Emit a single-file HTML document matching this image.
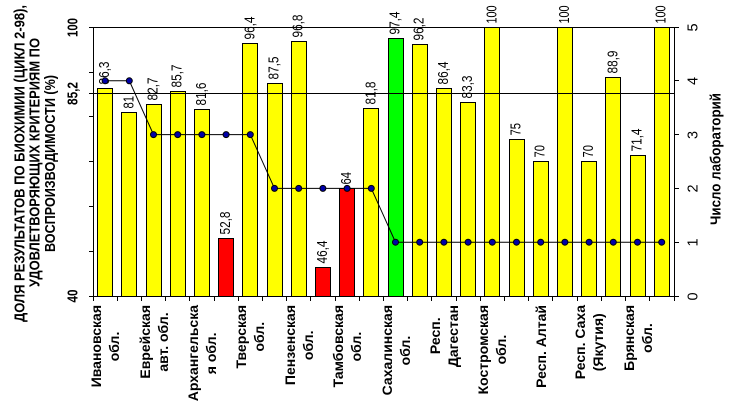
<!DOCTYPE html>
<html><head><meta charset="utf-8">
<style>
html,body{margin:0;padding:0;background:#fff;}
#w{position:relative;width:731px;height:405px;overflow:hidden;background:#fff;font-family:"Liberation Sans","DejaVu Sans",sans-serif;}
svg{position:absolute;left:0;top:0;}
.v{position:absolute;writing-mode:vertical-rl;white-space:nowrap;text-align:center;color:#000;}
.cat{top:305px;font-weight:bold;font-size:14px;line-height:18px;transform:translateX(-50%) rotate(180deg);}
</style></head><body>
<div id="w">
<svg width="731" height="405" viewBox="0 0 731 405" xmlns="http://www.w3.org/2000/svg">
<g stroke="#000" stroke-width="1">
<rect x="97.5" y="88.5" width="15" height="208" fill="#ffff00"/>
<rect x="121.5" y="112.5" width="15" height="184" fill="#ffff00"/>
<rect x="146.5" y="104.5" width="15" height="192" fill="#ffff00"/>
<rect x="170.5" y="91.5" width="15" height="205" fill="#ffff00"/>
<rect x="194.5" y="109.5" width="15" height="187" fill="#ffff00"/>
<rect x="218.5" y="238.5" width="15" height="58" fill="#ff0000"/>
<rect x="242.5" y="43.5" width="15" height="253" fill="#ffff00"/>
<rect x="267.5" y="83.5" width="15" height="213" fill="#ffff00"/>
<rect x="291.5" y="41.5" width="15" height="255" fill="#ffff00"/>
<rect x="315.5" y="267.5" width="15" height="29" fill="#ff0000"/>
<rect x="339.5" y="188.5" width="15" height="108" fill="#ff0000"/>
<rect x="363.5" y="108.5" width="15" height="188" fill="#ffff00"/>
<rect x="388.5" y="38.5" width="15" height="258" fill="#00ff00"/>
<rect x="412.5" y="44.5" width="15" height="252" fill="#ffff00"/>
<rect x="436.5" y="88.5" width="15" height="208" fill="#ffff00"/>
<rect x="460.5" y="102.5" width="15" height="194" fill="#ffff00"/>
<rect x="484.5" y="27.5" width="15" height="269" fill="#ffff00"/>
<rect x="509.5" y="139.5" width="15" height="157" fill="#ffff00"/>
<rect x="533.5" y="161.5" width="15" height="135" fill="#ffff00"/>
<rect x="557.5" y="27.5" width="15" height="269" fill="#ffff00"/>
<rect x="581.5" y="161.5" width="15" height="135" fill="#ffff00"/>
<rect x="605.5" y="77.5" width="15" height="219" fill="#ffff00"/>
<rect x="630.5" y="155.5" width="15" height="141" fill="#ffff00"/>
<rect x="654.5" y="27.5" width="15" height="269" fill="#ffff00"/>
</g>
<g stroke="#000" stroke-width="1" fill="none">
<line x1="93.5" y1="27" x2="93.5" y2="297"/>
<line x1="89" y1="27.5" x2="675" y2="27.5"/>
<line x1="89" y1="93.5" x2="674.5" y2="93.5"/>
<line x1="93" y1="296.5" x2="675" y2="296.5"/>
<line x1="674.5" y1="27" x2="674.5" y2="297"/>
<line x1="89" y1="72.5" x2="93" y2="72.5"/>
<line x1="89" y1="116.5" x2="93" y2="116.5"/>
<line x1="89" y1="161.5" x2="93" y2="161.5"/>
<line x1="89" y1="206.5" x2="93" y2="206.5"/>
<line x1="89" y1="251.5" x2="93" y2="251.5"/>
<line x1="89" y1="296.5" x2="93" y2="296.5"/>
<line x1="675" y1="27.5" x2="679" y2="27.5"/>
<line x1="675" y1="80.5" x2="679" y2="80.5"/>
<line x1="675" y1="134.5" x2="679" y2="134.5"/>
<line x1="675" y1="188.5" x2="679" y2="188.5"/>
<line x1="675" y1="242.5" x2="679" y2="242.5"/>
<line x1="675" y1="296.5" x2="679" y2="296.5"/>
<path d="M93.5 297v4M117.5 297v4M141.5 297v4M165.5 297v4M189.5 297v4M214.5 297v4M238.5 297v4M262.5 297v4M286.5 297v4M310.5 297v4M335.5 297v4M359.5 297v4M383.5 297v4M407.5 297v4M431.5 297v4M456.5 297v4M480.5 297v4M504.5 297v4M528.5 297v4M552.5 297v4M577.5 297v4M601.5 297v4M625.5 297v4M649.5 297v4M674.5 297v4"/>
</g>
<g font-family="Liberation Sans, sans-serif" font-size="15" fill="#000">
<text transform="translate(109.1,84.5) rotate(-90)" textLength="23" lengthAdjust="spacingAndGlyphs">86,3</text>
<text transform="translate(133.3,108.5) rotate(-90)" textLength="12.5" lengthAdjust="spacingAndGlyphs">81</text>
<text transform="translate(157.5,100.5) rotate(-90)" textLength="23" lengthAdjust="spacingAndGlyphs">82,7</text>
<text transform="translate(181.7,87.5) rotate(-90)" textLength="23" lengthAdjust="spacingAndGlyphs">85,7</text>
<text transform="translate(205.9,105.5) rotate(-90)" textLength="23" lengthAdjust="spacingAndGlyphs">81,6</text>
<text transform="translate(230.1,234.5) rotate(-90)" textLength="23" lengthAdjust="spacingAndGlyphs">52,8</text>
<text transform="translate(254.3,39.5) rotate(-90)" textLength="23" lengthAdjust="spacingAndGlyphs">96,4</text>
<text transform="translate(278.5,79.5) rotate(-90)" textLength="23" lengthAdjust="spacingAndGlyphs">87,5</text>
<text transform="translate(302.7,37.5) rotate(-90)" textLength="23" lengthAdjust="spacingAndGlyphs">96,8</text>
<text transform="translate(326.9,263.5) rotate(-90)" textLength="23" lengthAdjust="spacingAndGlyphs">46,4</text>
<text transform="translate(351.1,184.5) rotate(-90)" textLength="12.5" lengthAdjust="spacingAndGlyphs">64</text>
<text transform="translate(375.3,104.5) rotate(-90)" textLength="23" lengthAdjust="spacingAndGlyphs">81,8</text>
<text transform="translate(399.5,34.5) rotate(-90)" textLength="23" lengthAdjust="spacingAndGlyphs">97,4</text>
<text transform="translate(423.7,40.5) rotate(-90)" textLength="23" lengthAdjust="spacingAndGlyphs">96,2</text>
<text transform="translate(447.9,84.5) rotate(-90)" textLength="23" lengthAdjust="spacingAndGlyphs">86,4</text>
<text transform="translate(472.1,98.5) rotate(-90)" textLength="23" lengthAdjust="spacingAndGlyphs">83,3</text>
<text transform="translate(496.3,23.5) rotate(-90)" textLength="18" lengthAdjust="spacingAndGlyphs">100</text>
<text transform="translate(520.5,135.5) rotate(-90)" textLength="12.5" lengthAdjust="spacingAndGlyphs">75</text>
<text transform="translate(544.7,157.5) rotate(-90)" textLength="12.5" lengthAdjust="spacingAndGlyphs">70</text>
<text transform="translate(568.9,23.5) rotate(-90)" textLength="18" lengthAdjust="spacingAndGlyphs">100</text>
<text transform="translate(593.1,157.5) rotate(-90)" textLength="12.5" lengthAdjust="spacingAndGlyphs">70</text>
<text transform="translate(617.3,73.5) rotate(-90)" textLength="23" lengthAdjust="spacingAndGlyphs">88,9</text>
<text transform="translate(641.5,151.5) rotate(-90)" textLength="23" lengthAdjust="spacingAndGlyphs">71,4</text>
<text transform="translate(665.7,23.5) rotate(-90)" textLength="18" lengthAdjust="spacingAndGlyphs">100</text>
</g>
<g font-family="Liberation Sans, sans-serif" font-size="15" font-weight="bold" fill="#000" text-anchor="middle">
<text transform="translate(77.5,27.5) rotate(-90)" textLength="19" lengthAdjust="spacingAndGlyphs">100</text>
<text transform="translate(77.5,93.5) rotate(-90)" textLength="23" lengthAdjust="spacingAndGlyphs">85,2</text>
<text transform="translate(77.5,296) rotate(-90)" textLength="13" lengthAdjust="spacingAndGlyphs">40</text>
</g>
<g font-family="Liberation Sans, sans-serif" font-size="14.5" fill="#000" text-anchor="middle">
<text transform="translate(697.5,27.5) rotate(-90)">5</text>
<text transform="translate(697.5,81) rotate(-90)">4</text>
<text transform="translate(697.5,135) rotate(-90)">3</text>
<text transform="translate(697.5,188.5) rotate(-90)">2</text>
<text transform="translate(697.5,242.5) rotate(-90)">1</text>
<text transform="translate(697.5,296.5) rotate(-90)">0</text>
</g>
<!-- left title -->
<g font-family="Liberation Sans, sans-serif" font-size="15" font-weight="bold" fill="#000" text-anchor="middle">
<text transform="translate(24.5,163.5) rotate(-90)" textLength="317" lengthAdjust="spacingAndGlyphs">ДОЛЯ РЕЗУЛЬТАТОВ ПО БИОХИМИИ (ЦИКЛ 2-98),</text>
<text transform="translate(39.5,162.5) rotate(-90)" textLength="249" lengthAdjust="spacingAndGlyphs">УДОВЛЕТВОРЯЮЩИХ КРИТЕРИЯМ ПО</text>
<text transform="translate(55,163.5) rotate(-90)" textLength="177" lengthAdjust="spacingAndGlyphs">ВОСПРОИЗВОДИМОСТИ (%)</text>
</g>
<!-- right title -->
<g font-family="Liberation Sans, sans-serif" font-size="14.5" font-weight="bold" fill="#000" text-anchor="middle">
<text transform="translate(720.5,159) rotate(-90)" textLength="132" lengthAdjust="spacingAndGlyphs">Число лабораторий</text>
</g>
<polyline fill="none" stroke="#000" stroke-width="1" points="105.1,80.8 129.3,80.8 153.5,134.6 177.7,134.6 201.9,134.6 226.1,134.6 250.3,134.6 274.5,188.4 298.7,188.4 322.9,188.4 347.1,188.4 371.3,188.4 395.5,242.2 419.7,242.2 443.9,242.2 468.1,242.2 492.3,242.2 516.5,242.2 540.7,242.2 564.9,242.2 589.1,242.2 613.3,242.2 637.5,242.2 661.7,242.2"/>
<g fill="#0000a8" stroke="#000" stroke-width="1">
<circle cx="105.1" cy="80.8" r="3"/><circle cx="129.3" cy="80.8" r="3"/>
<circle cx="153.5" cy="134.6" r="3"/><circle cx="177.7" cy="134.6" r="3"/><circle cx="201.9" cy="134.6" r="3"/><circle cx="226.1" cy="134.6" r="3"/><circle cx="250.3" cy="134.6" r="3"/>
<circle cx="274.5" cy="188.4" r="3"/><circle cx="298.7" cy="188.4" r="3"/><circle cx="322.9" cy="188.4" r="3"/><circle cx="347.1" cy="188.4" r="3"/><circle cx="371.3" cy="188.4" r="3"/>
<circle cx="395.5" cy="242.2" r="3"/><circle cx="419.7" cy="242.2" r="3"/><circle cx="443.9" cy="242.2" r="3"/><circle cx="468.1" cy="242.2" r="3"/><circle cx="492.3" cy="242.2" r="3"/><circle cx="516.5" cy="242.2" r="3"/><circle cx="540.7" cy="242.2" r="3"/><circle cx="564.9" cy="242.2" r="3"/><circle cx="589.1" cy="242.2" r="3"/><circle cx="613.3" cy="242.2" r="3"/><circle cx="637.5" cy="242.2" r="3"/><circle cx="661.7" cy="242.2" r="3"/>
</g>
</svg>

<div class="v cat" style="left:105.1px;">Ивановская<br>обл.</div>
<div class="v cat" style="left:153.5px;">Еврейская<br>авт. обл.</div>
<div class="v cat" style="left:201.9px;">Архангельска<br>я обл.</div>
<div class="v cat" style="left:250.3px;">Тверская<br>обл.</div>
<div class="v cat" style="left:298.7px;">Пензенская<br>обл.</div>
<div class="v cat" style="left:347.1px;">Тамбовская<br>обл.</div>
<div class="v cat" style="left:395.5px;">Сахалинская<br>обл.</div>
<div class="v cat" style="left:443.9px;">Респ.<br>Дагестан</div>
<div class="v cat" style="left:492.3px;">Костромская<br>обл.</div>
<div class="v cat" style="left:540.7px;">Респ. Алтай</div>
<div class="v cat" style="left:589.1px;">Респ. Саха<br>(Якутия)</div>
<div class="v cat" style="left:637.5px;">Брянская<br>обл.</div>
</div>
</body></html>
